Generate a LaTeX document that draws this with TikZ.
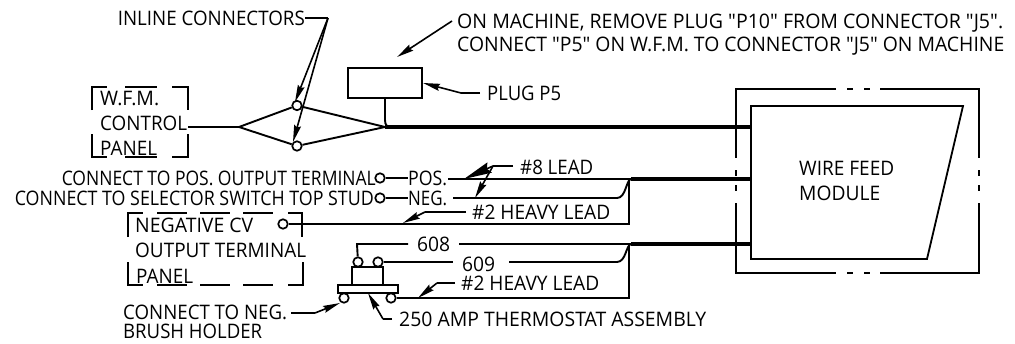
\documentclass[tikz,border=0pt]{standalone}
\usepackage{graphicx}
\usepackage{fontspec}
\newfontfamily\labfont{Open Sans}
\usetikzlibrary{arrows.meta}
\newcommand{\lw}[2]{\resizebox{#1pt}{\height}{#2}}
\tikzset{
 wire/.style={line width=1.9pt,line join=miter},
 thickwire/.style={line width=3.6pt},
 frame/.style={line width=1.8pt},
 lead/.style={line width=1.6pt,-{Stealth[length=17pt,width=7pt,inset=2pt]}},
 bigtip/.style={line width=1.6pt,-{Stealth[length=28pt,width=11pt,inset=3pt]}},
 term/.style={circle,draw,line width=1.7pt,fill=white,minimum size=9.5pt,inner sep=0pt},
 lab/.style={anchor=base west,inner sep=0pt,font=\labfont\fontsize{20}{22}\selectfont},
 labr/.style={anchor=base east,inner sep=0pt,font=\labfont\fontsize{20}{22}\selectfont},
}
\begin{document}
\begin{tikzpicture}[x=1pt,y=-1pt]
\useasboundingbox (0,0) rectangle (1015,343);
% ---- coordinates
\coordinate (il) at (328,18);
\coordinate (dl) at (239,127);
\coordinate (dr) at (385,127);
\coordinate (thJ) at (391,127);
\coordinate (posK) at (631,179);
\coordinate (t8K) at (631,244);
\coordinate (m1) at (752,127);
\coordinate (m2) at (752,179);
\coordinate (m3) at (752,244);
% ---- W.F.M. panel
\draw[frame] (92,110)--(92,87)--(107,87) (125,87)--(157,87) (172,87)--(188,87)--(188,110);
\draw[frame] (92,134)--(92,157)--(107,157) (125,157)--(157,157) (172,157)--(188,157)--(188,134);
\node[lab] (wfm1) at (100,105) {\lw{59}{W.F.M.}};
\node[lab] (wfm2) at (100,130) {\lw{87}{CONTROL}};
\node[lab] (wfm3) at (100,155) {\lw{57}{PANEL}};
% ---- diamond
\node[term] (c1) at (297,105.5) {};
\node[term] (c2) at (297,146) {};
\coordinate (wfmout) at (188,127);
\draw[wire] (wfmout)--(dl);
\draw[wire] (c1)--(dl)--(c2);
\draw[wire] (c1)--(dr)--(c2);
% ---- inline label
\node[labr] (inl) at (305,25) {\lw{187}{INLINE CONNECTORS}};
\draw[wire] (inl.base east |- il)--(il);
\draw[lead] (il)--(295,102);
\draw[lead] (il)--(293,142);
% ---- plug
\node[draw,line width=1.8pt,minimum width=74pt,minimum height=30pt,inner sep=0pt] (plug) at (385,83) {};
\draw[wire] (plug.south) -- (385,120) .. controls (385,125) and (387,127) .. (thJ);
\draw[thickwire] (dr)--(m1);
\node[lab] (plugl) at (487,100) {\lw{74}{PLUG P5}};
\coordinate (plugk) at (461,93);
\draw[wire] (480,93)--(plugk);
\draw[lead] (plugk)--(423,83);
% ---- on machine note
\node[lab] (n1) at (457,28) {\lw{546}{ON MACHINE, REMOVE PLUG "P10" FROM CONNECTOR "J5".}};
\node[lab] (n2) at (457,51) {\lw{547}{CONNECT "P5" ON W.F.M. TO CONNECTOR "J5" ON MACHINE}};
\draw[lead] (452,21)--(397,57);
% ---- POS / NEG
\node[labr] (cp) at (376,185) {\lw{314}{CONNECT TO POS. OUTPUT TERMINAL}};
\node[labr] (cs) at (374,205) {\lw{359}{CONNECT TO SELECTOR SWITCH TOP STUD}};
\node[term] (tp) at (380,178) {};
\node[term] (tn) at (380,198) {};
\node[lab] (pos) at (408,185) {\lw{39}{POS.}};
\node[lab] (neg) at (408,205) {\lw{39}{NEG.}};
\draw[wire] (tp)--(408,178);
\draw[wire] (tn)--(408,198);
\draw[wire] (448,179)--(posK);
\draw[wire] (453,198)--(617,198) .. controls (626,198) and (626,180) .. (posK);
\draw[thickwire] (posK)--(m2);
% ---- #8 lead
\node[lab] (l8) at (520,174) {\lw{73}{\#8 LEAD}};
\coordinate (l8k) at (493,166);
\draw[wire] (513,166)--(l8k);
\draw[bigtip] (l8k)--(464,179);
\draw[lead] (l8k)--(475,198);
% ---- negative panel
\draw[frame] (128,237)--(128,213)--(143,213) (157,213)--(187,213) (200,213)--(230,213) (243,213)--(273,213) (288,213)--(302,213)--(302,237);
\draw[frame] (128,262)--(128,285)--(143,285) (157,285)--(187,285) (200,285)--(230,285) (243,285)--(273,285) (288,285)--(303,285)--(303,262);
\node[lab] (np1) at (135,232) {\lw{118}{NEGATIVE CV}};
\node[lab] (np2) at (135,257) {\lw{171}{OUTPUT TERMINAL}};
\node[lab] (np3) at (136,283) {\lw{57}{PANEL}};
\node[term] (tcv) at (283,224) {};
\coordinate (h2) at (629,224);
\draw[wire] (tcv)--(h2)--(629,180);
\node[lab] (l2a) at (472,219) {\lw{138}{\#2 HEAVY LEAD}};
\coordinate (l2ak) at (425,212);
\draw[wire] (466,212)--(l2ak);
\draw[lead] (l2ak)--(403,223);
% ---- thermostat
\draw[line width=1.8pt] (352,285) rectangle (383,267);
\node[term] (t608) at (358,262) {};
\node[term] (t609) at (378,262) {};
\node[draw,line width=1.8pt,fill=white,minimum width=60pt,minimum height=8pt,inner sep=0pt] (bar) at (368,289) {};
\node[term] (tb1) at (344,298) {};
\node[term] (tb2) at (391,298) {};
\node[lab] (t8) at (417,251) {\lw{33}{608}};
\node[lab] (t9) at (462,271) {\lw{33}{609}};
\draw[wire] (t608)--(357,244)--(408,244);
\draw[wire] (459,244)--(t8K);
\draw[wire] (t609)--(453,262);
\draw[wire] (509,262)--(617,262) .. controls (626,262) and (626,245) .. (t8K);
\draw[thickwire] (t8K)--(m3);
\coordinate (h3) at (629,298);
\draw[wire] (tb2)--(h3)--(629,245);
\node[lab] (l2b) at (461,290) {\lw{138}{\#2 HEAVY LEAD}};
\coordinate (l2bk) at (437,283);
\draw[wire] (455,283)--(l2bk);
\draw[lead] (l2bk)--(418,298);
\node[lab] (amp) at (399,326) {\lw{307}{250 AMP THERMOSTAT ASSEMBLY}};
\coordinate (ampk) at (383,319);
\draw[wire] (392,319)--(ampk);
\draw[lead] (ampk)--(368,293);
\node[lab] (b1) at (123,319) {\lw{164}{CONNECT TO NEG.}};
\node[lab] (b2) at (123,338) {\lw{139}{BRUSH HOLDER}};
\coordinate (bk) at (315,313);
\draw[wire] (291,313)--(bk);
\draw[lead] (bk)--(340,303);
% ---- module
\draw[frame] (836,89)--(736,89)--(736,158) (736,203)--(736,273)--(836,273);
\draw[frame] (880,89)--(979,89)--(979,158) (979,203)--(979,273)--(880,273);
\draw[frame] (847,89)--(853,89) (864,89)--(870,89) (847,273)--(853,273) (864,273)--(870,273);
\draw[frame] (736,170)--(736,176) (736,185)--(736,191) (979,170)--(979,176) (979,185)--(979,191);
\draw[frame] (751,106)--(963,106)--(927,259)--(751,259)--cycle;
\node[lab] (wf1) at (799,175) {\lw{95}{WIRE FEED}};
\node[lab] (wf2) at (799,200) {\lw{81}{MODULE}};
\end{tikzpicture}
\end{document}
